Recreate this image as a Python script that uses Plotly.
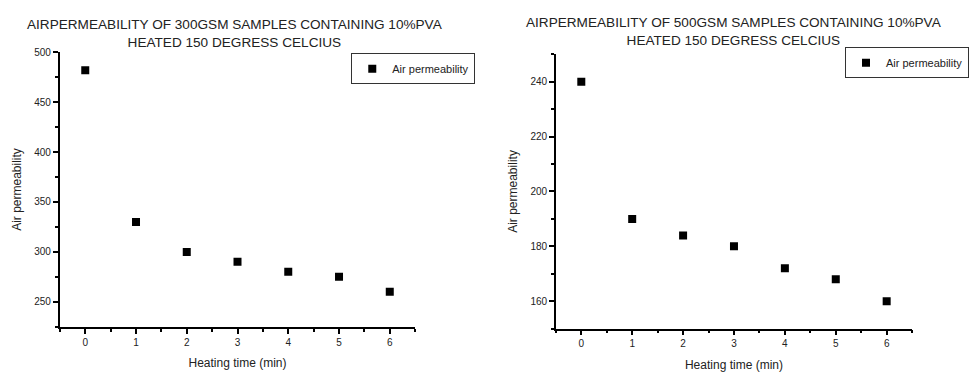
import plotly.graph_objects as go

heating_time = [0, 1, 2, 3, 4, 5, 6]
air_perm_300gsm = [482, 330, 300, 290, 280, 275, 260]
air_perm_500gsm = [240, 190, 184, 180, 172, 168, 160]

title_left = "AIRPERMEABILITY OF 300GSM SAMPLES CONTAINING 10%PVA<br>HEATED 150 DEGRESS CELCIUS"
title_right = "AIRPERMEABILITY OF 500GSM SAMPLES CONTAINING 10%PVA<br>HEATED 150 DEGRESS CELCIUS"
series_name = "Air permeability"
x_title = "Heating time (min)"
y_title = "Air permeability"

FONT = "Liberation Sans, Arial, sans-serif"
W, H = 969, 372

fig = go.Figure()
fig.add_trace(go.Scatter(x=heating_time, y=air_perm_300gsm, mode="markers", name=series_name,
                         marker=dict(symbol="square", size=8, color="black"), showlegend=True,
                         xaxis="x", yaxis="y", legend="legend"))
fig.add_trace(go.Scatter(x=heating_time, y=air_perm_500gsm, mode="markers", name=series_name,
                         marker=dict(symbol="square", size=8, color="black"), showlegend=True,
                         xaxis="x2", yaxis="y2", legend="legend2"))

def px_x(p):
    return p / W

def px_y(p):
    return (H - p) / H

axis_common = dict(showgrid=False, zeroline=False, showline=True, linecolor="black",
                   ticks="outside", tickcolor="black", ticklen=5, tickwidth=1.5,
                   tickfont=dict(family=FONT, size=10, color="#222"),
                   title_font=dict(family=FONT, size=12, color="#222"))

legend_common = dict(xanchor="left", yanchor="top", bordercolor="#333", borderwidth=1,
                     bgcolor="white", font=dict(family=FONT, size=11, color="#222"),
                     itemwidth=30, tracegroupgap=0, visible=True)

fig.update_layout(
    width=W, height=H, margin=dict(l=0, r=0, t=0, b=0),
    paper_bgcolor="white", plot_bgcolor="white", showlegend=True,
    font=dict(family=FONT, color="#222"),
    xaxis=dict(domain=[px_x(60), px_x(416)], range=[-0.5, 6.5], dtick=1, linewidth=2,
               minor=dict(dtick=0.5, ticks="outside", ticklen=3, tickcolor="black"),
               title=dict(text=x_title, standoff=12), anchor="y", **axis_common),
    yaxis=dict(domain=[px_y(326), px_y(47)], range=[225, 500], tick0=250, dtick=50, linewidth=2,
               minor=dict(dtick=25, ticks="outside", ticklen=3, tickcolor="black"),
               title=dict(text=y_title, standoff=10), anchor="x", **axis_common),
    xaxis2=dict(domain=[px_x(557), px_x(914)], range=[-0.5, 6.5], dtick=1, linewidth=1.5,
                minor=dict(dtick=0.5, ticks="outside", ticklen=3, tickcolor="black"),
                title=dict(text=x_title, standoff=12), anchor="y2", **axis_common),
    yaxis2=dict(domain=[px_y(328), px_y(49)], range=[150, 250], tick0=160, dtick=20, linewidth=1.5,
                minor=dict(dtick=10, ticks="outside", ticklen=3, tickcolor="black"),
                title=dict(text=y_title, standoff=10), anchor="x2", **axis_common),
    legend=dict(x=px_x(352), y=px_y(48), **legend_common),
    legend2=dict(x=px_x(847), y=px_y(42), **legend_common),
    annotations=[
        dict(text=title_left, x=px_x(235), y=px_y(9), xref="paper", yref="paper",
             xanchor="center", yanchor="top", showarrow=False,
             font=dict(family=FONT, size=13.6, color="#222")),
        dict(text=title_right, x=px_x(736), y=px_y(7), xref="paper", yref="paper",
             xanchor="center", yanchor="top", showarrow=False,
             font=dict(family=FONT, size=13.6, color="#222")),
    ],
)

fig.write_html("out.html")
